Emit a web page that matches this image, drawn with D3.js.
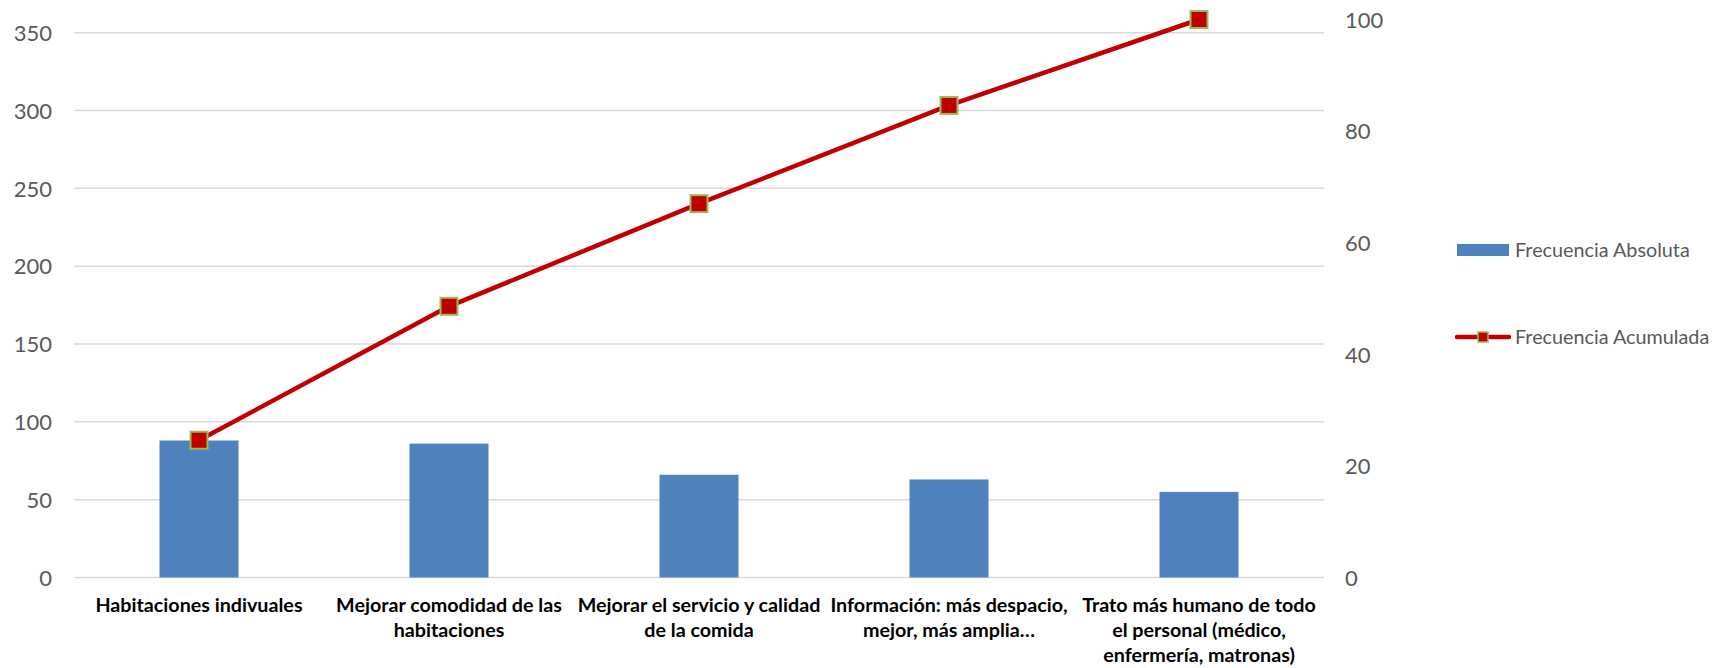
<!DOCTYPE html>
<html>
<head>
<meta charset="utf-8">
<script src="https://cdn.jsdelivr.net/npm/d3@7"></script>
<style>
  body { margin:0; background:#fff; }
  svg { display:block; }
  .tick-label { font-family:"Lato", "Open Sans", sans-serif; font-size:22px; fill:#595959; }
  .x-label { font-family:"Lato", "Open Sans", sans-serif; font-size:19.7px; font-weight:bold; fill:#000; }
  .text-legend { font-family:"Lato", "Open Sans", sans-serif; font-size:19.8px; fill:#595959; }
</style>
</head>
<body>
<svg id="chart" width="1715" height="668"></svg>
<script>
/////////////////////////////////// DONNEES ///////////////////////////////////
var categories = [
  ["Habitaciones indivuales"],
  ["Mejorar comodidad de las", "habitaciones"],
  ["Mejorar el servicio y calidad", "de la comida"],
  ["Información: más despacio,", "mejor, más amplia…"],
  ["Trato más humano de todo", "el personal (médico,", "enfermería, matronas)"]
];
var frecuenciaAbsoluta = [88, 86, 66, 63, 55];
var frecuenciaAcumulada = [24.6, 48.6, 67.0, 84.6, 100];
var ticksIzq = [0, 50, 100, 150, 200, 250, 300, 350];
var ticksDer = [0, 20, 40, 60, 80, 100];
var series = ["Frecuencia Absoluta", "Frecuencia Acumulada"];

/////////////////////////////////// ECHELLES ///////////////////////////////////
var svg = d3.select("#chart");
var left = 74, right = 1324, bottom = 577.5;

var x = d3.scaleBand()
          .domain(d3.range(categories.length))
          .range([left, right])
          .paddingInner(0.684)
          .paddingOuter(0.342);

var yIzq = d3.scaleLinear().domain([0, 350]).range([bottom, 32.7]);
var yDer = d3.scaleLinear().domain([0, 100]).range([bottom, 19.5]);

// grille
svg.append("g")
   .selectAll("line")
   .data(ticksIzq)
   .enter()
   .append("line")
   .attr("x1", left)
   .attr("x2", right)
   .attr("y1", function(d) { return yIzq(d); })
   .attr("y2", function(d) { return yIzq(d); })
   .style("stroke", "#d9d9d9")
   .style("stroke-width", "1.5");

// axe gauche
var axeIzq = d3.axisLeft(yIzq).tickValues(ticksIzq).tickSize(0).tickPadding(0);
svg.append("g")
   .attr("transform", "translate(52,0)")
   .call(axeIzq)
   .call(function(g) { g.select(".domain").remove(); })
   .selectAll("text")
   .attr("class", "tick-label")
   .attr("x", 0)
   .attr("dy", "0.35em")
   .style("text-anchor", "end");

// axe droit
var axeDer = d3.axisRight(yDer).tickValues(ticksDer).tickSize(0).tickPadding(0);
svg.append("g")
   .attr("transform", "translate(1345,0)")
   .call(axeDer)
   .call(function(g) { g.select(".domain").remove(); })
   .selectAll("text")
   .attr("class", "tick-label")
   .attr("x", 0)
   .attr("dy", "0.35em")
   .style("text-anchor", "start");

// enlever les styles par défaut de d3 sur les textes des axes
svg.selectAll(".tick text").attr("fill", null).attr("font-size", null).attr("font-family", null);
svg.selectAll("g[font-family]").attr("font-family", null).attr("font-size", null);

// barres
svg.append("g")
   .selectAll("rect")
   .data(frecuenciaAbsoluta)
   .enter()
   .append("rect")
   .attr("x", function(d, i) { return x(i); })
   .attr("width", x.bandwidth())
   .attr("y", function(d) { return yIzq(d); })
   .attr("height", function(d) { return bottom - yIzq(d); })
   .style("fill", "#4f81bd");

// ligne cumulée
var cx = function(i) { return x(i) + x.bandwidth() / 2; };
var line = d3.line()
             .x(function(d, i) { return cx(i); })
             .y(function(d) { return yDer(d); });

svg.append("path")
   .datum(frecuenciaAcumulada)
   .attr("d", line)
   .style("fill", "none")
   .style("stroke", "#c00000")
   .style("stroke-width", "4.5")
   .style("stroke-linejoin", "round");

var m = 17;
svg.append("g")
   .selectAll("rect")
   .data(frecuenciaAcumulada)
   .enter()
   .append("rect")
   .attr("x", function(d, i) { return cx(i) - m / 2; })
   .attr("y", function(d) { return yDer(d) - m / 2; })
   .attr("width", m)
   .attr("height", m)
   .style("fill", "#c00000")
   .style("stroke", "#9bbb59")
   .style("stroke-width", "2");

// étiquettes des catégories
var labels = svg.append("g")
                .selectAll("text")
                .data(categories)
                .enter()
                .append("text")
                .attr("class", "x-label")
                .attr("text-anchor", "middle")
                .attr("x", function(d, i) { return cx(i); })
                .attr("y", 612);

labels.selectAll("tspan")
      .data(function(d) { return d; })
      .enter()
      .append("tspan")
      .attr("x", function() { return d3.select(this.parentNode).attr("x"); })
      .attr("dy", function(d, j) { return j === 0 ? 0 : 25; })
      .text(function(d) { return d; });

/////////////////////////////////// LEGENDE ///////////////////////////////////
var legend = svg.append("g");

legend.append("rect")
      .attr("x", 1457)
      .attr("y", 244)
      .attr("width", 52)
      .attr("height", 12)
      .style("fill", "#4f81bd");

legend.append("line")
      .attr("x1", 1457)
      .attr("x2", 1509)
      .attr("y1", 337)
      .attr("y2", 337)
      .style("stroke", "#c00000")
      .style("stroke-width", "4.5")
      .style("stroke-linecap", "round");

legend.append("rect")
      .attr("x", 1478)
      .attr("y", 332)
      .attr("width", 10)
      .attr("height", 10)
      .style("fill", "#c00000")
      .style("stroke", "#9bbb59")
      .style("stroke-width", "1.5");

legend.selectAll("text")
      .data(series)
      .enter()
      .append("text")
      .attr("class", "text-legend")
      .attr("x", 1515)
      .attr("y", function(d, i) { return [250, 337][i]; })
      .attr("dy", "0.35em")
      .text(function(d) { return d; });
</script>
</body>
</html>
